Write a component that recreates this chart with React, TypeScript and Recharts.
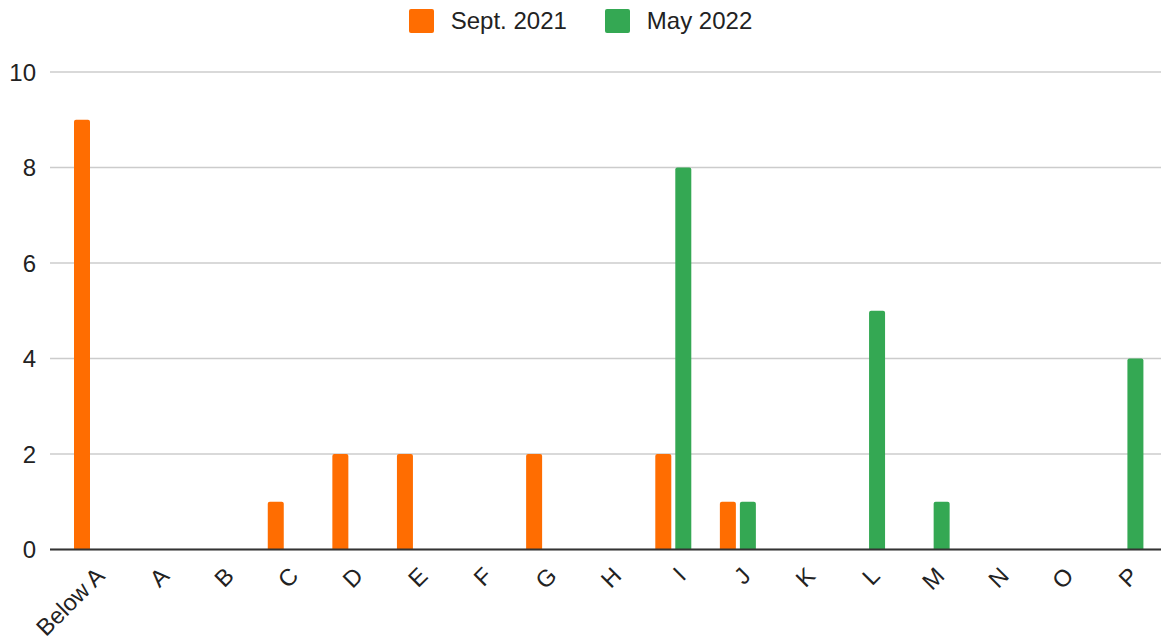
import React from "react";
import { BarChart, Bar, XAxis, YAxis, CartesianGrid, Legend } from "recharts";

const categories = ["Below A", "A", "B", "C", "D", "E", "F", "G", "H", "I", "J", "K", "L", "M", "N", "O", "P"];
const sept2021 = [9, 0, 0, 1, 2, 2, 0, 2, 0, 2, 1, 0, 0, 0, 0, 0, 0];
const may2022 = [0, 0, 0, 0, 0, 0, 0, 0, 0, 8, 1, 0, 5, 1, 0, 0, 4];
const yTicks = [0, 2, 4, 6, 8, 10];

const ORANGE = "#ff6d01";
const GREEN = "#34a853";
const FONT = "'Liberation Sans', Arial, sans-serif";

const data = categories.map((c, i) => ({ name: c, sept: sept2021[i], may: may2022[i] }));

const XTick = (props: any) => {
  const { x, y, payload } = props;
  return (
    <g transform={`translate(${x + 8},${y + 14})`}>
      <text
        x={0}
        y={0}
        dy="0.35em"
        textAnchor="end"
        transform="rotate(-45)"
        fill="#222"
        fontSize={23.5}
        fontFamily={FONT}
      >
        {payload.value}
      </text>
    </g>
  );
};

const LegendContent = () => (
  <div
    style={{
      display: "flex",
      justifyContent: "center",
      alignItems: "center",
      height: 40,
      fontFamily: FONT,
      fontSize: 24,
      color: "#222",
    }}
  >
    {[
      { label: "Sept. 2021", color: ORANGE },
      { label: "May 2022", color: GREEN },
    ].map((it, i) => (
      <div key={it.label} style={{ display: "flex", alignItems: "center", marginLeft: i ? 38 : 0 }}>
        <div style={{ width: 25, height: 24, background: it.color, borderRadius: 2, marginRight: 17 }} />
        <span>{it.label}</span>
      </div>
    ))}
  </div>
);

export default function App() {
  return (
    <div style={{ position: "absolute", left: 0, top: 0, width: 1161, height: 640, background: "#fff" }}>
      <BarChart
        width={1161}
        height={640}
        data={data}
        margin={{ top: 32, right: 0, bottom: 0, left: 0 }}
        barSize={16}
        barGap={4}
      >
        <Legend verticalAlign="top" align="center" content={LegendContent} wrapperStyle={{ top: 1, height: 40 }} />
        <CartesianGrid vertical={false} stroke="#cccccc" strokeWidth={1.5} />
        <XAxis
          dataKey="name"
          interval={0}
          height={90.5}
          padding={{ left: 10, right: 3 }}
          tickLine={false}
          axisLine={{ stroke: "#333", strokeWidth: 2 }}
          tick={<XTick />}
        />
        <YAxis
          domain={[0, 10]}
          ticks={yTicks}
          width={50}
          tickLine={false}
          axisLine={false}
          tickMargin={8}
          tick={{ fill: "#222", fontSize: 24, fontFamily: FONT }}
        />
        <Bar dataKey="sept" name="Sept. 2021" fill={ORANGE} radius={[2, 2, 0, 0]} isAnimationActive={false} />
        <Bar dataKey="may" name="May 2022" fill={GREEN} radius={[2, 2, 0, 0]} isAnimationActive={false} />
      </BarChart>
    </div>
  );
}
